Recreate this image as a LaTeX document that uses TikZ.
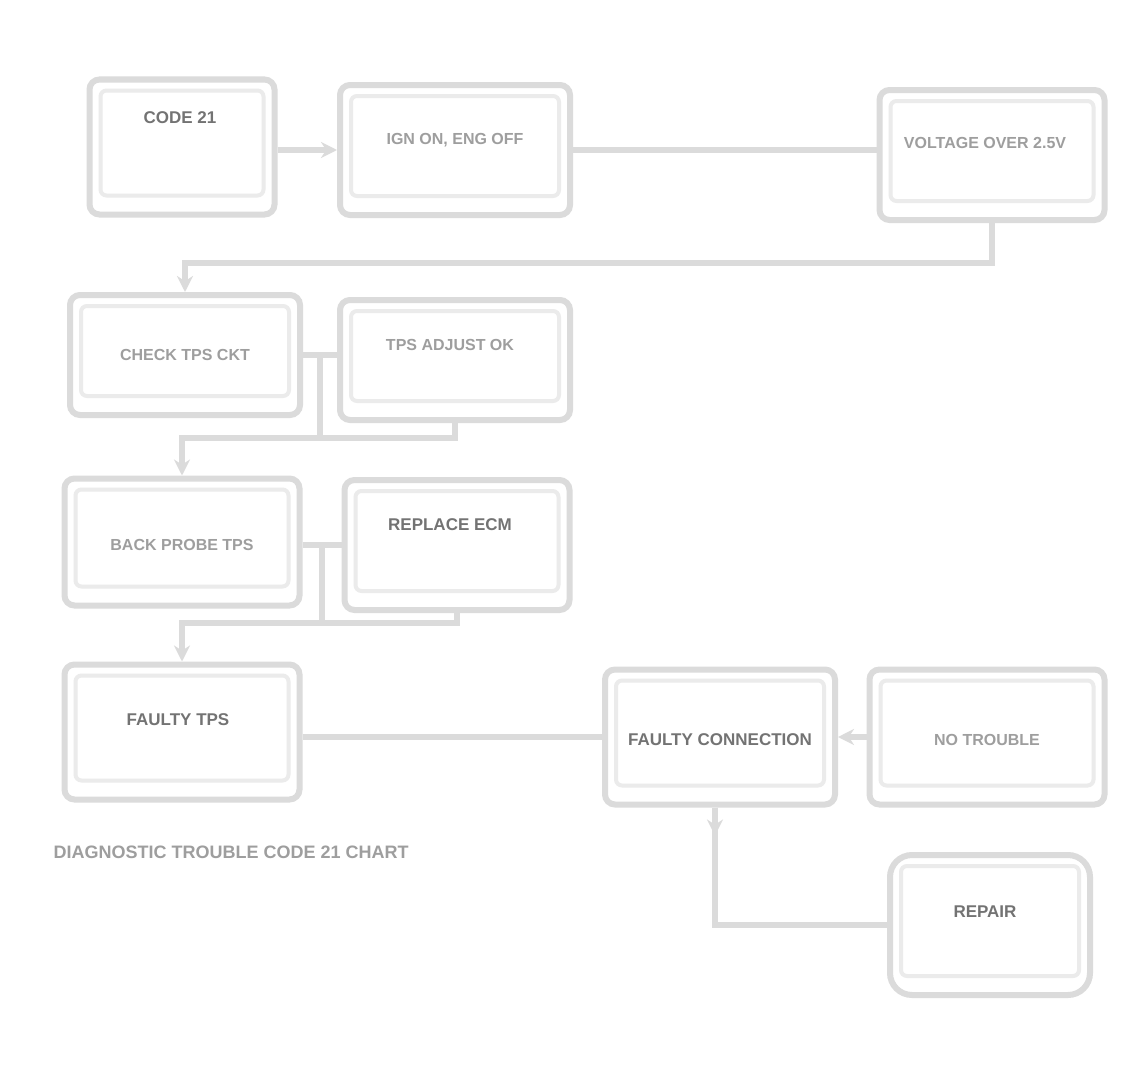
\documentclass[tikz,border=0pt]{standalone}
\usepackage{fontspec}
\setmainfont{Liberation Sans}
\usetikzlibrary{arrows.meta,calc}
\begin{document}
\begin{tikzpicture}[x=1pt,y=-1pt,
  box/.style={draw=black!14, line width=6pt, rounded corners=10pt, fill=white, inner sep=0pt},
  inner/.style={draw=black!8, line width=4pt, rounded corners=6pt},
  txt/.style={font=\bfseries\fontsize{16}{18}\selectfont, text=black!38, align=center},
  dtxt/.style={font=\bfseries\fontsize{17}{19}\selectfont, text=black!55, align=center},
  link/.style={draw=black!14, line width=6pt},
  arr/.style={link, -{Stealth[length=16pt,width=16pt]}}]
\useasboundingbox (0,0) rectangle (1143,1081);
\fill[white] (0,0) rectangle (1143,1081);

% boxes
\node[box, minimum width=185pt, minimum height=135pt] (A) at (182,147) {};
\node[box, minimum width=230pt, minimum height=130pt] (B) at (455,150) {};
\node[box, minimum width=225pt, minimum height=130pt] (C) at (992,155) {};
\node[box, minimum width=230pt, minimum height=120pt] (D) at (185,355) {};
\node[box, minimum width=230pt, minimum height=120pt] (E) at (455,360) {};
\node[box, minimum width=235pt, minimum height=127pt] (F) at (182,542) {};
\node[box, minimum width=225pt, minimum height=130pt] (G) at (457,545) {};
\node[box, minimum width=235pt, minimum height=135pt] (H) at (182,732) {};
\node[box, minimum width=230pt, minimum height=135pt] (I) at (720,737) {};
\node[box, minimum width=235pt, minimum height=135pt] (J) at (987,737) {};
\node[box, minimum width=200pt, minimum height=140pt, rounded corners=22pt] (K) at (990,925) {};

% inner frames
\foreach \n in {A,B,C,D,E,F,G,H,I,J,K}{
  \draw[inner] ($(\n.north west)+(14,14)$) rectangle ($(\n.south east)+(-14,-22)$);
}

% texts
\node[dtxt] (At) at (180,118) {CODE 21};
\node[txt]  (Bt) at (455,140) {IGN ON, ENG OFF};
\node[txt]  (Ct) at (985,143) {VOLTAGE OVER 2.5V};
\node[txt]  (Dt) at (185,355) {CHECK TPS CKT};
\node[txt]  (Et) at (450,345) {TPS ADJUST OK};
\node[txt]  (Ft) at (182,545) {BACK PROBE TPS};
\node[dtxt] (Gt) at (450,525) {REPLACE ECM};
\node[dtxt] (Ht) at (178,720) {FAULTY TPS};
\node[dtxt] (It) at (720,740) {FAULTY CONNECTION};
\node[txt]  (Jt) at (987,740) {NO TROUBLE};
\node[dtxt] (Kt) at (985,912) {REPAIR};
\node[txt, anchor=west, font=\bfseries\fontsize{18}{20}\selectfont] (N) at (50,852) {DIAGNOSTIC TROUBLE CODE 21 CHART};

% connectors
\draw[arr] (A.east |- B.west) -- (B.west);
\draw[link] (B.east) -- (B.east -| C.west);
\draw[arr] (C.south) -- ++(0,40) -| (D.north);
\draw[link] (D.east) -- (D.east -| E.west);
\coordinate (m1) at ($(D.east)!0.5!(D.east -| E.west)$);
\coordinate (j1) at (318,435);
\draw[arr] (E.south) -- ++(0,15) -| (F.north);
\draw[link] (m1) -- (m1 |- j1);
\draw[link] (F.east |- G.west) -- (G.west);
\coordinate (m2) at ($(F.east |- G.west)!0.5!(G.west)$);
\coordinate (j2) at (318,620);
\draw[arr] (G.south) -- ++(0,10) -| (H.north);
\draw[link] (m2) -- (m2 |- j2);
\draw[link] (H.east |- I.west) -- (I.west);
\draw[arr] (J.west) -- (I.east);
\coordinate (k1) at ($(I.south)+(-5,0)$);
\draw[link] (k1) |- (K.west);
\draw[arr] (k1) -- ++(0,28);
\end{tikzpicture}
\end{document}
